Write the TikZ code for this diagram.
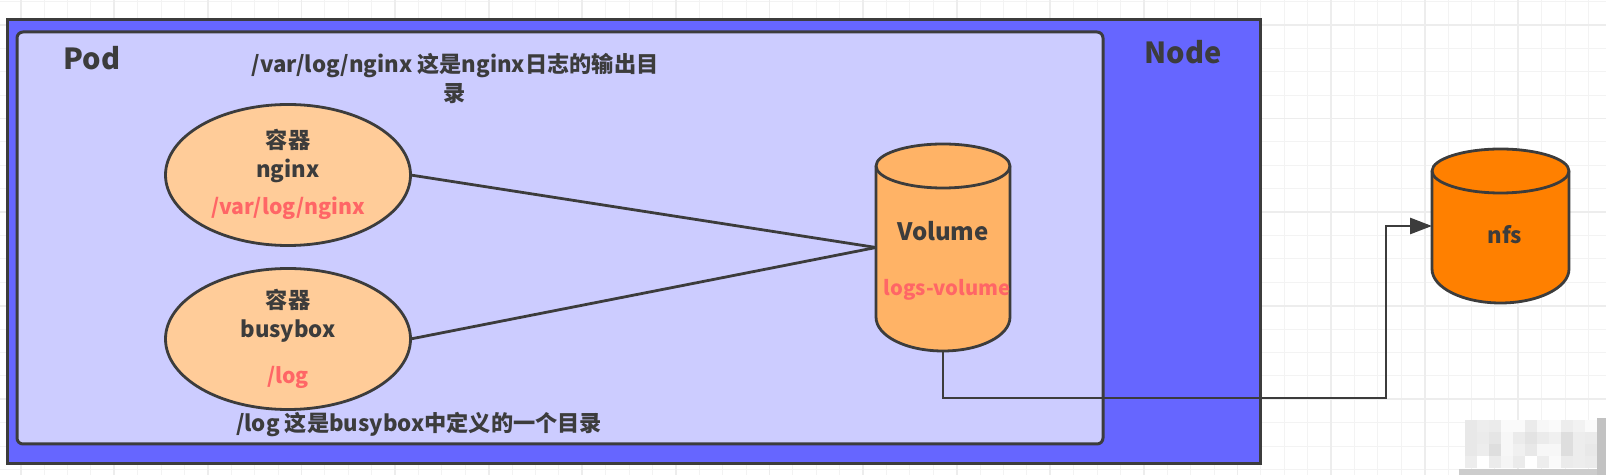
\documentclass[tikz,border=0pt]{standalone}
\usepackage{fontspec}
\setmainfont{Noto Sans CJK SC}
\usetikzlibrary{arrows.meta, shapes.geometric}

\definecolor{nodeblue}{HTML}{6666FF}
\definecolor{podblue}{HTML}{CCCCFF}
\definecolor{peach}{HTML}{FFCC99}
\definecolor{volorange}{HTML}{FFB366}
\definecolor{nfsorange}{HTML}{FF8000}
\definecolor{pathred}{HTML}{FF6666}
\definecolor{inkgrey}{HTML}{3C3C3C}
\definecolor{gridgrey}{HTML}{EDEDED}

\tikzset{
    box/.style={draw=inkgrey, line width=1.5pt},
    container/.style={ellipse, draw=inkgrey, line width=1.4pt, fill=peach, minimum width=122.5pt, minimum height=70.5pt, inner sep=0pt, outer sep=0pt},
    canbox/.style={rectangle, inner sep=0pt, outer sep=0pt},
    link/.style={draw=inkgrey, line width=1.4pt},
    title/.style={text=inkgrey, font=\bfseries\fontsize{14.5pt}{17pt}\selectfont, inner sep=0pt},
    label/.style={text=inkgrey, font=\bfseries\fontsize{11.1pt}{14.5pt}\selectfont, inner sep=0pt, align=center},
    redlabel/.style={text=pathred, font=\bfseries\fontsize{10.6pt}{13pt}\selectfont, inner sep=0pt}
}

% Cylinder body drawn round a named box
\newcommand{\canshape}[2]{
    \path (#1.north west) ++(0,22) coordinate (#1l);
    \path (#1.north east) ++(0,22) coordinate (#1r);
    \path (#1.north) ++(0,44) coordinate (#1f);
    \path (#1.south west) ++(0,-34) coordinate (#1bl);
    \path (#1.south east) ++(0,-34) coordinate (#1br);
    \filldraw[draw=inkgrey, fill=#2, line width=1.4pt] (#1l) .. controls +(0,-12) and +(-37,0) .. (#1.north) .. controls +(37,0) and +(0,-12) .. (#1r) -- (#1br) .. controls +(0,19) and +(37,0) .. (#1.south) .. controls +(-37,0) and +(0,19) .. (#1bl) -- cycle;
    \draw[draw=inkgrey, line width=1.4pt] (#1l) .. controls +(0,12) and +(-37,0) .. (#1f) .. controls +(37,0) and +(0,12) .. (#1r);
}

\begin{document}
\begin{tikzpicture}[x=0.5pt, y=-0.5pt]
    \useasboundingbox (0,0) rectangle (1606,475);

    % Grid paper
    \foreach \gx in {0,...,68} {
        \draw[gridgrey!70, line width=0.5pt] ({-2.8+23.4*\gx},0) -- ({-2.8+23.4*\gx},475);
    }
    \foreach \gy in {0,...,20} {
        \draw[gridgrey!70, line width=0.5pt] (0,{1.6+23.4*\gy}) -- (1606,{1.6+23.4*\gy});
    }
    \foreach \gx in {0,...,17} {
        \draw[gridgrey, line width=0.9pt] ({20.6+93.6*\gx},0) -- ({20.6+93.6*\gx},475);
    }
    \foreach \gy in {0,...,5} {
        \draw[gridgrey, line width=0.9pt] (0,{25+93.6*\gy}) -- (1606,{25+93.6*\gy});
    }

    % Blurred corner
    \foreach \cells [count=\ry] in {{9,7,8,2,2,8,3,2,7,5,2},{9,8,10,3,8,11,8,6,13,7,8},{9,7,13,3,6,9,3,3,13,7,9},{7,0,8,4,8,0,7,2,8,7,8}} {
        \foreach \v [count=\cx] in \cells {
            \fill[black!\v!white] ({1453+12*\cx},{408+12*\ry}) rectangle +(12,12);
        }
    }
    \fill[black!20!white] (1459,469) rectangle (1606,475);
    \fill[black!24!white] (1597,418) rectangle (1606,475);

    % Node and Pod
    \filldraw[box, fill=nodeblue] (7,20) rectangle (1260,464);
    \filldraw[box, fill=podblue, rounded corners=3pt] (17,32) rectangle (1103,444);
    \node[title] (nodetitle) at (1183,52) {Node};
    \node[title] (podtitle) at (92,58) {Pod};

    % Containers
    \node[container] (nginx) at (288,175) {};
    \node[container] (busybox) at (288,339) {};
    \node[label] (nginxname) at (288,156) {容器\\nginx};
    \node[redlabel] (nginxpath) at (288,208) {/var/log/nginx};
    \node[label] (busyboxname) at (288,316) {容器\\busybox};
    \node[redlabel] (busyboxpath) at (288,377) {/log};

    % Notes
    \node[label] (nginxnote) at (455,79) {/var/log/nginx 这是nginx日志的输出目\\录};
    \node[label] (busyboxnote) at (419,425) {/log 这是busybox中定义的一个目录};

    % Volume
    \node[canbox, minimum width=67pt, minimum height=103.5pt] (volume) at (943,247.5) {};
    \canshape{volume}{volorange}
    \node[title, font=\bfseries\fontsize{12pt}{14pt}\selectfont] (volumename) at (943,231) {Volume};
    \node[redlabel, font=\bfseries\fontsize{10.1pt}{13pt}\selectfont] (volumepath) at (947,290) {logs-volume};

    % NFS
    \node[canbox, minimum width=68.5pt, minimum height=77pt] (nfs) at (1500.5,226) {};
    \canshape{nfs}{nfsorange}
    \node[label] (nfsname) at (1505,235) {nfs};

    % Links
    \draw[link] (nginx.east) -- (volume.west);
    \draw[link] (busybox.east) -- (volume.west);
    \coordinate (bend) at (1386,398);
    \draw[link, -{Triangle[length=11pt, width=8pt]}] (volume.south) |- (bend) |- (nfs.west);
\end{tikzpicture}
\end{document}
